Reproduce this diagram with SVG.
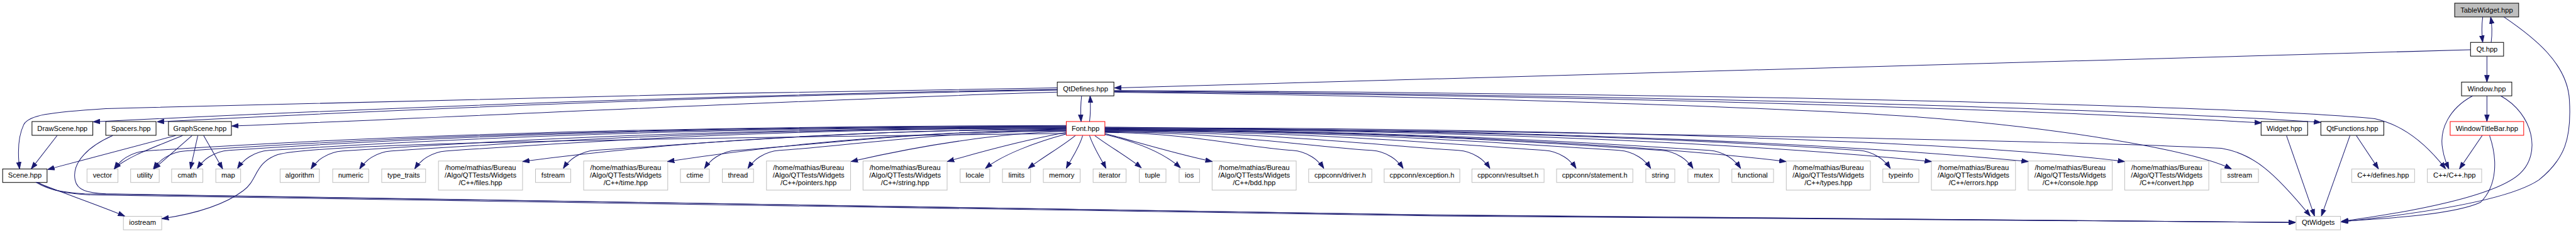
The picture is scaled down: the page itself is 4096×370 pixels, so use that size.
<svg xmlns="http://www.w3.org/2000/svg" width="4096" height="370" viewBox="0 0 4096 370">
<defs>
<style>
.n rect{fill:#fff;stroke:#000;stroke-width:1.2}
.g rect{fill:#fff;stroke:#bfbfbf;stroke-width:1.2}
.r rect{fill:#fff;stroke:#ff0000;stroke-width:1.2}
.t rect{fill:#bfbfbf;stroke:#000;stroke-width:1.2}
text{font-family:"Liberation Sans",Arial,Helvetica,sans-serif;font-size:13.33px;text-anchor:middle;fill:#000}
#edges path{fill:none;stroke:#191970;stroke-width:1.2;marker-end:url(#ah)}
</style>
<marker id="ah" markerUnits="userSpaceOnUse" viewBox="0 0 13 10" markerWidth="13" markerHeight="10" refX="13" refY="5" orient="auto"><path d="M0,0.5 L13,5 L0,9.5 z" fill="#191970" stroke="#191970" stroke-width="1"/></marker>
</defs>
<rect width="4096" height="370" fill="#fff"/>
<g transform="scale(0.841)">
<g id="nodes">
<g id="n-tablewidget" class="t"><rect x="4641" y="6" width="121" height="26"/><text x="4701.5" y="23.5">TableWidget.hpp</text></g>
<g id="n-qt" class="n"><rect x="4671" y="80" width="62.5" height="26"/><text x="4702.2" y="97.5">Qt.hpp</text></g>
<g id="n-qtdefines" class="n"><rect x="1999" y="155" width="107" height="26"/><text x="2052.5" y="172.5">QtDefines.hpp</text></g>
<g id="n-window" class="n"><rect x="4654" y="155" width="95" height="26"/><text x="4701.5" y="172.5">Window.hpp</text></g>
<g id="n-font" class="r"><rect x="2016" y="229.5" width="73" height="26"/><text x="2052.5" y="247">Font.hpp</text></g>
<g id="n-drawscene" class="n"><rect x="60.5" y="229.5" width="115" height="26"/><text x="118" y="247">DrawScene.hpp</text></g>
<g id="n-spacers" class="n"><rect x="200" y="229.5" width="95" height="26"/><text x="247.5" y="247">Spacers.hpp</text></g>
<g id="n-graphscene" class="n"><rect x="318.5" y="229.5" width="119" height="26"/><text x="378" y="247">GraphScene.hpp</text></g>
<g id="n-widget" class="n"><rect x="4275" y="229.5" width="88" height="26"/><text x="4319" y="247">Widget.hpp</text></g>
<g id="n-qtfunctions" class="n"><rect x="4388" y="229.5" width="119" height="26"/><text x="4447.5" y="247">QtFunctions.hpp</text></g>
<g id="n-windowtitlebar" class="r"><rect x="4632.5" y="229.5" width="139" height="26"/><text x="4702" y="247">WindowTitleBar.hpp</text></g>
<g id="n-scene" class="n"><rect x="5" y="319" width="84" height="25.5"/><text x="47" y="335.5">Scene.hpp</text></g>
<g id="n-vector" class="g"><rect x="164.5" y="319" width="58.5" height="25.5"/><text x="193.7" y="335.5">vector</text></g>
<g id="n-utility" class="g"><rect x="247" y="319" width="54" height="25.5"/><text x="274" y="335.5">utility</text></g>
<g id="n-cmath" class="g"><rect x="324.5" y="319" width="59" height="25.5"/><text x="354" y="335.5">cmath</text></g>
<g id="n-map" class="g"><rect x="408" y="319" width="47" height="25.5"/><text x="431.5" y="335.5">map</text></g>
<g id="n-algorithm" class="g"><rect x="529.6" y="319" width="74.2" height="25.5"/><text x="566.7" y="335.5">algorithm</text></g>
<g id="n-numeric" class="g"><rect x="629" y="319" width="68" height="25.5"/><text x="663" y="335.5">numeric</text></g>
<g id="n-type_traits" class="g"><rect x="721.7" y="319" width="83" height="25.5"/><text x="763.2" y="335.5">type_traits</text></g>
<g id="n-files" class="g"><rect x="829" y="304" width="159" height="55"/><text x="908.5" y="320.7">/home/mathias/Bureau</text><text x="908.5" y="335.3">/Algo/QTTests/Widgets</text><text x="908.5" y="350">/C++/files.hpp</text></g>
<g id="n-fstream" class="g"><rect x="1012.5" y="319" width="66.6" height="25.5"/><text x="1045.8" y="335.5">fstream</text></g>
<g id="n-time" class="g"><rect x="1103.5" y="304" width="159" height="55"/><text x="1183" y="320.7">/home/mathias/Bureau</text><text x="1183" y="335.3">/Algo/QTTests/Widgets</text><text x="1183" y="350">/C++/time.hpp</text></g>
<g id="n-ctime" class="g"><rect x="1286.5" y="319" width="54.7" height="25.5"/><text x="1313.8" y="335.5">ctime</text></g>
<g id="n-thread" class="g"><rect x="1365.7" y="319" width="59" height="25.5"/><text x="1395.2" y="335.5">thread</text></g>
<g id="n-pointers" class="g"><rect x="1449.2" y="304" width="159" height="55"/><text x="1528.7" y="320.7">/home/mathias/Bureau</text><text x="1528.7" y="335.3">/Algo/QTTests/Widgets</text><text x="1528.7" y="350">/C++/pointers.hpp</text></g>
<g id="n-stringhpp" class="g"><rect x="1631.7" y="304" width="159" height="55"/><text x="1711.2" y="320.7">/home/mathias/Bureau</text><text x="1711.2" y="335.3">/Algo/QTTests/Widgets</text><text x="1711.2" y="350">/C++/string.hpp</text></g>
<g id="n-locale" class="g"><rect x="1815.3" y="319" width="56" height="25.5"/><text x="1843.3" y="335.5">locale</text></g>
<g id="n-limits" class="g"><rect x="1895.3" y="319" width="53.2" height="25.5"/><text x="1921.9" y="335.5">limits</text></g>
<g id="n-memory" class="g"><rect x="1972.6" y="319" width="69.6" height="25.5"/><text x="2007.4" y="335.5">memory</text></g>
<g id="n-iterator" class="g"><rect x="2066.7" y="319" width="62.4" height="25.5"/><text x="2097.9" y="335.5">iterator</text></g>
<g id="n-tuple" class="g"><rect x="2154" y="319" width="50.5" height="25.5"/><text x="2179.2" y="335.5">tuple</text></g>
<g id="n-ios" class="g"><rect x="2229.3" y="319" width="38.7" height="25.5"/><text x="2248.6" y="335.5">ios</text></g>
<g id="n-bdd" class="g"><rect x="2291.7" y="304" width="159" height="55"/><text x="2371.2" y="320.7">/home/mathias/Bureau</text><text x="2371.2" y="335.3">/Algo/QTTests/Widgets</text><text x="2371.2" y="350">/C++/bdd.hpp</text></g>
<g id="n-driver" class="g"><rect x="2474.2" y="319" width="119.4" height="25.5"/><text x="2533.9" y="335.5">cppconn/driver.h</text></g>
<g id="n-exception" class="g"><rect x="2617" y="319" width="143" height="25.5"/><text x="2688.5" y="335.5">cppconn/exception.h</text></g>
<g id="n-resultset" class="g"><rect x="2783" y="319" width="136.3" height="25.5"/><text x="2851.1" y="335.5">cppconn/resultset.h</text></g>
<g id="n-statement" class="g"><rect x="2943" y="319" width="144.2" height="25.5"/><text x="3015.1" y="335.5">cppconn/statement.h</text></g>
<g id="n-string" class="g"><rect x="3111.7" y="319" width="54.8" height="25.5"/><text x="3139.1" y="335.5">string</text></g>
<g id="n-mutex" class="g"><rect x="3191.3" y="319" width="59" height="25.5"/><text x="3220.8" y="335.5">mutex</text></g>
<g id="n-functional" class="g"><rect x="3274.4" y="319" width="78.8" height="25.5"/><text x="3313.8" y="335.5">functional</text></g>
<g id="n-types" class="g"><rect x="3377.3" y="304" width="159" height="55"/><text x="3456.8" y="320.7">/home/mathias/Bureau</text><text x="3456.8" y="335.3">/Algo/QTTests/Widgets</text><text x="3456.8" y="350">/C++/types.hpp</text></g>
<g id="n-typeinfo" class="g"><rect x="3559.8" y="319" width="68.1" height="25.5"/><text x="3593.8" y="335.5">typeinfo</text></g>
<g id="n-errors" class="g"><rect x="3651.7" y="304" width="159" height="55"/><text x="3731.2" y="320.7">/home/mathias/Bureau</text><text x="3731.2" y="335.3">/Algo/QTTests/Widgets</text><text x="3731.2" y="350">/C++/errors.hpp</text></g>
<g id="n-console" class="g"><rect x="3834.6" y="304" width="159" height="55"/><text x="3914.1" y="320.7">/home/mathias/Bureau</text><text x="3914.1" y="335.3">/Algo/QTTests/Widgets</text><text x="3914.1" y="350">/C++/console.hpp</text></g>
<g id="n-convert" class="g"><rect x="4017.1" y="304" width="159" height="55"/><text x="4096.6" y="320.7">/home/mathias/Bureau</text><text x="4096.6" y="335.3">/Algo/QTTests/Widgets</text><text x="4096.6" y="350">/C++/convert.hpp</text></g>
<g id="n-sstream" class="g"><rect x="4199" y="319" width="71" height="25.5"/><text x="4234.5" y="335.5">sstream</text></g>
<g id="n-cppdefines" class="g"><rect x="4446.4" y="319" width="118.8" height="25.5"/><text x="4505.8" y="335.5">C++/defines.hpp</text></g>
<g id="n-cppcpp" class="g"><rect x="4589.3" y="319" width="102.7" height="25.5"/><text x="4640.6" y="335.5">C++/C++.hpp</text></g>
<g id="n-iostream" class="g"><rect x="233.3" y="408.5" width="72.4" height="25.5"/><text x="269.5" y="425">iostream</text></g>
<g id="n-qtwidgets" class="g"><rect x="4341.2" y="408.5" width="84" height="25.5"/><text x="4383.2" y="425">QtWidgets</text></g>
</g>
<g id="edges">
<path d="M4694,32 C4692,48 4692,64 4694,80"/>
<path d="M4710,80 C4712,64 4712,48 4709,32"/>
<path d="M4734,32 C4790,70 4855,120 4858,190 C4862,260 4850,300 4800,340 C4740,380 4560,405 4426,419"/>
<path d="M4671,94 L2107,166"/>
<path d="M4702,106 L4702,155"/>
<path d="M2045,181 C2043,197 2043,213 2044,229.5"/>
<path d="M2060,229.5 C2062,213 2062,197 2061,181"/>
<path d="M1999,166 C1400,174 700,190 200,205 C90,212 55,218 45,235 C33,260 34,295 37,319"/>
<path d="M1999,169 C1400,178 800,200 176,230"/>
<path d="M1999,170 C1400,180 850,202 297,230"/>
<path d="M1999,174 C1600,185 1000,215 438,238"/>
<path d="M2107,173 C3000,180 3800,205 4276,232"/>
<path d="M2107,172 C3000,178 3900,200 4388,231"/>
<path d="M2107,171 C3200,176 4200,198 4490,224 C4545,236 4590,275 4624,319"/>
<path d="M2107,174 C2700,181 3300,200 3600,219 C3900,240 4150,285 4219,319"/>
<path d="M108,256 L59,319"/>
<path d="M213,256 C170,275 135,305 142,340 C146,360 165,364 200,366 C1000,388 3000,413 4340,420"/>
<path d="M332,256 L90,320"/>
<path d="M345,256 C300,275 240,295 216,319"/>
<path d="M363,256 L291,319"/>
<path d="M374,256 L360,319"/>
<path d="M385,256 L421,319"/>
<path d="M68,344 C120,365 180,385 236,408"/>
<path d="M68,344 C90,358 115,363 160,366 C1000,386 3000,413 4340,420"/>
<path d="M72,344 C95,360 125,366 170,368 C1000,390 3000,415 4340,420"/>
<path d="M4323,256 L4376,408"/>
<path d="M4443,256 L4389,408"/>
<path d="M4455,256 L4497,319"/>
<path d="M4702,181 L4702,229.5"/>
<path d="M4675,181 C4630,205 4612,245 4618,280 C4621,300 4626,310 4630,319"/>
<path d="M4728,181 C4790,215 4805,290 4765,327 C4720,370 4560,400 4427,418"/>
<path d="M4693,256 L4650,319"/>
<path d="M4707,256 C4722,300 4722,350 4690,382 C4640,405 4520,412 4427,418"/>
<path d="M2089,240 C3000,250 3900,265 4200,280 C4260,290 4300,325 4368,408"/>
<path d="M2016,252 C1200,262 600,270 525,292 C480,308 488,340 460,360 C420,390 360,405 306,413"/>
<path d="M2016,237 C1233,239 711,256 276,285 C246,287 226,304 216,319"/>
<path d="M2016,238 C1266,239 766,257 350,285 C320,287 300,304 290,319"/>
<path d="M2016,239 C1304,240 829,257 433,284 C403,286 383,303 373,318"/>
<path d="M2016,240 C1338,241 886,259 509,284 C479,286 459,303 449,318"/>
<path d="M2016,241 C1400,242 990,262 648,285 C618,287 598,304 588,319"/>
<path d="M2016,241.5 C1442,242.5 1059,264 740,285 C710,287 690,304 680,319"/>
<path d="M2016,242 C1489,243 1137,265 844,285 C814,287 794,304 784,319"/>
<path d="M2016,243 C1600,246 1250,270 988,305"/>
<path d="M2016,244 C1615,245 1348,269 1125,284 C1095,286 1075,303 1065,318"/>
<path d="M2016,245 C1700,249 1450,276 1262,305"/>
<path d="M2016,246 C1735,247 1548,273 1392,284 C1362,286 1342,303 1332,318"/>
<path d="M2016,247 C1772,248 1610,275 1474,284 C1444,286 1424,303 1414,318"/>
<path d="M2016,248 C1880,252 1740,275 1609,305"/>
<path d="M2016,250 C1950,262 1860,285 1791,305"/>
<path d="M2016,253 C1960,268 1895,292 1863,318"/>
<path d="M2033,256 C2010,275 1970,298 1944,318"/>
<path d="M2047,256 C2040,280 2025,300 2016,318"/>
<path d="M2060,256 C2068,280 2082,300 2091,318"/>
<path d="M2070,256 C2095,275 2135,298 2158,317"/>
<path d="M2089,254 C2150,268 2200,288 2232,317"/>
<path d="M2089,252 C2150,268 2220,290 2292,305"/>
<path d="M2089,250 C2248,251 2354,278 2443,284 C2473,286 2493,303 2503,318"/>
<path d="M2089,249 C2316,250 2467,276 2593,284 C2623,286 2643,303 2653,318"/>
<path d="M2089,248 C2390,249 2590,273 2757,284 C2787,286 2807,303 2817,318"/>
<path d="M2089,247 C2463,248 2712,270 2920,284 C2950,286 2970,303 2980,318"/>
<path d="M2089,246 C2526,247 2818,268 3061,284 C3091,286 3111,303 3121,318"/>
<path d="M2089,245.5 C2562,246.5 2878,266 3141,284 C3171,286 3191,303 3201,318"/>
<path d="M2089,245 C2603,246 2945,265 3231,284 C3261,286 3281,303 3291,318"/>
<path d="M2089,244 C2700,248 3150,278 3377,305"/>
<path d="M2089,243.5 C2730,244.5 3158,260 3514,284 C3544,286 3564,303 3574,318"/>
<path d="M2089,243 C2900,246 3400,280 3652,305"/>
<path d="M2089,242 C3000,244 3550,278 3835,305"/>
<path d="M2089,241 C3100,242 3750,272 4017,305"/>
</g>
</g>
</svg>
